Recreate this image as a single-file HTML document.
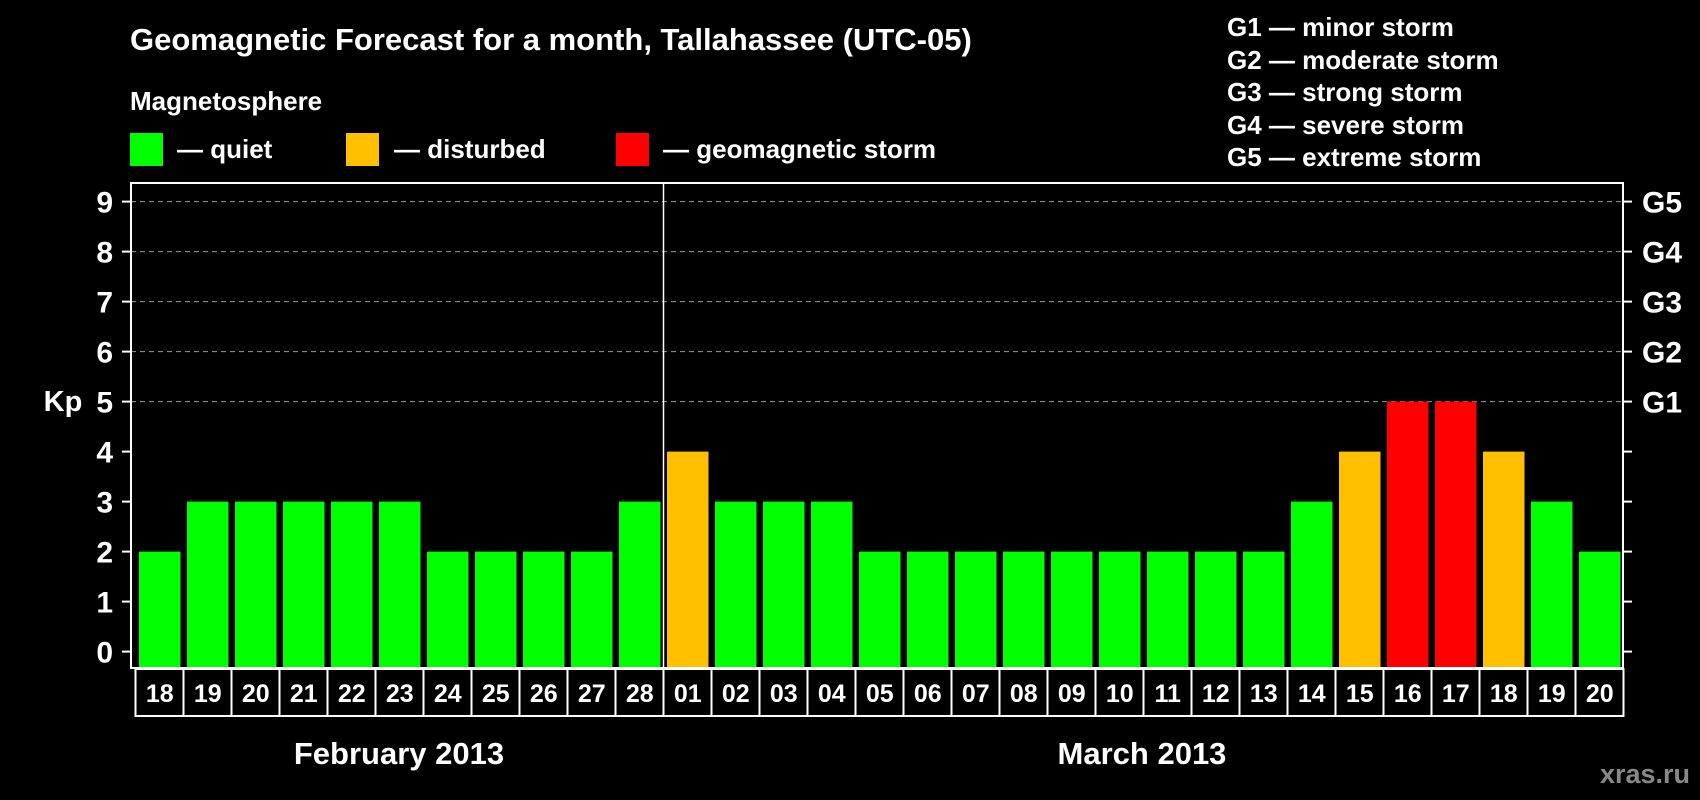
<!DOCTYPE html>
<html><head><meta charset="utf-8"><style>
html,body{margin:0;padding:0;background:#000;width:1700px;height:800px;overflow:hidden}
svg{display:block;font-family:"Liberation Sans",Arial,sans-serif;font-weight:bold}
</style></head><body>
<svg id="c" width="1700" height="800" xmlns="http://www.w3.org/2000/svg">
<text x="130" y="50" fill="#fff" font-size="31">Geomagnetic Forecast for a month, Tallahassee (UTC-05)</text>
<text x="130" y="110" fill="#fff" font-size="26">Magnetosphere</text>
<rect x="130" y="133" width="33" height="33" fill="#00ff00"/>
<text x="177" y="158" fill="#fff" font-size="26">— quiet</text>
<rect x="346" y="133" width="33" height="33" fill="#ffc000"/>
<text x="394" y="158" fill="#fff" font-size="26">— disturbed</text>
<rect x="616" y="133" width="33" height="33" fill="#ff0000"/>
<text x="663" y="158" fill="#fff" font-size="26">— geomagnetic storm</text>
<g fill="#fff" font-size="26">
<text x="1227" y="36">G1 — minor storm</text>
<text x="1227" y="69">G2 — moderate storm</text>
<text x="1227" y="101">G3 — strong storm</text>
<text x="1227" y="134">G4 — severe storm</text>
<text x="1227" y="166">G5 — extreme storm</text>
</g>
<text x="63" y="411" fill="#fff" font-size="29" text-anchor="middle">Kp</text>
<text x="399" y="764" fill="#fff" font-size="31" text-anchor="middle">February 2013</text>
<text x="1142" y="764" fill="#fff" font-size="31" text-anchor="middle">March 2013</text>
<text x="1690" y="783" fill="#888" font-size="27" text-anchor="end">xras.ru</text>
<g id="plot"></g>
</svg>
<script>
const days=["18","19","20","21","22","23","24","25","26","27","28","01","02","03","04","05","06","07","08","09","10","11","12","13","14","15","16","17","18","19","20"];
const kp=[2,3,3,3,3,3,2,2,2,2,3,4,3,3,3,2,2,2,2,2,2,2,2,2,3,4,5,5,4,3,2];
const yTicks=[0,1,2,3,4,5,6,7,8,9];
const gLabels=["G1","G2","G3","G4","G5"];
const NS="http://www.w3.org/2000/svg";
const g=document.getElementById('plot');
const L=131,R=1623,T=183,B=668,y0=651.6,unit=50,x0=139,pitch=48,bw=41.5;
const ys=v=>y0-v*unit, xs=i=>x0+i*pitch;
function mk(t,a){const e=document.createElementNS(NS,t);for(const k in a)e.setAttribute(k,a[k]);g.appendChild(e);return e;}
yTicks.forEach(v=>{
 const y=ys(v);
 if(v>=5){const l=mk('line',{x1:L,x2:R,y1:y,y2:y,stroke:'#999','stroke-dasharray':'5,4','stroke-width':1});
 
 }
 const t1=mk('line',{x1:L-9,x2:L,y1:y,y2:y,stroke:'#fff','stroke-width':2});
 
 
 const t2=mk('line',{x1:R,x2:R+9,y1:y,y2:y,stroke:'#fff','stroke-width':2});
 
 
 const tx=mk('text',{x:113,y:y+11,fill:'#fff','font-size':30,'text-anchor':'end'});tx.textContent=v;
 
 
 if(v>=5){const gt=mk('text',{x:1642,y:y+11,fill:'#fff','font-size':30});gt.textContent=gLabels[v-5];
 
 }
});
kp.forEach((v,i)=>{
 const c=v>=5?'#ff0000':(v>=4?'#ffc000':'#00ff00');
 const r=mk('rect',{x:xs(i),y:ys(v),width:bw,height:B-1-ys(v),fill:c});
 
 
 const bx=mk('rect',{x:xs(i)-3.5,y:B+1,width:pitch,height:47,fill:'none',stroke:'#fff','stroke-width':2});
 
 
 const t=mk('text',{x:xs(i)+bw/2,y:B+34,fill:'#fff','font-size':25,'text-anchor':'middle'});t.textContent=days[i];
 
 
});
const fr=mk('rect',{x:L,y:T,width:R-L,height:B-T,fill:'none',stroke:'#fff','stroke-width':2});


const split=days.indexOf("01");
const dv=mk('line',{x1:xs(split)-3.5,x2:xs(split)-3.5,y1:T,y2:B,stroke:'#fff','stroke-width':1.5});


</script>
</body></html>
